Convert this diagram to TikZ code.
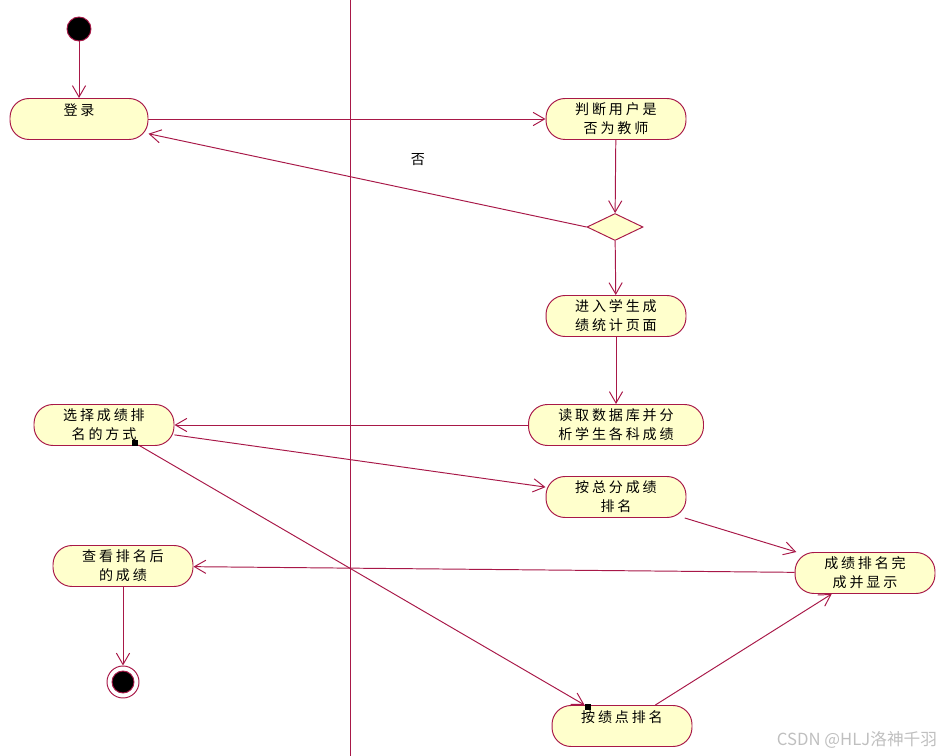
\documentclass[tikz,border=0pt]{standalone}
\usepackage{fontspec}
\usepackage{tikz}
\usetikzlibrary{arrows.meta,shapes.geometric}
\newfontfamily\cjk[LetterSpace=20]{Noto Sans CJK SC}
\newfontfamily\wmark{Noto Sans CJK SC}
\definecolor{umlline}{RGB}{168,24,72}
\definecolor{umlfill}{RGB}{255,255,204}

\begin{document}
\begin{tikzpicture}[x=0.02cm,y=-0.02cm,->,>={Straight Barb[length=6.5pt,width=7.5pt]},line width=0.55pt,
    every edge/.style={draw=umlline}]
        \tikzstyle{activity} = [rectangle, rounded corners=0.38cm, draw=umlline, fill=umlfill, text=black,
            minimum width=2.8cm, minimum height=0.82cm, inner sep=0pt, align=center,
            font=\cjk\fontsize{8pt}{10.8pt}\selectfont]
        \tikzstyle{decision} = [diamond, draw=umlline, fill=umlfill, minimum width=1.12cm, minimum height=0.54cm, aspect=2, inner sep=0pt]
        \tikzstyle{startdot} = [circle, draw=umlline, fill=black, minimum size=0.48cm, inner sep=0pt]
        \tikzstyle{enddot} = [circle, draw=umlline, fill=white, minimum size=0.64cm, inner sep=0pt,
            path picture={\fill[black, draw=umlline] (path picture bounding box.center) circle (0.22cm);}]
        \tikzstyle{pinsq} = [rectangle, fill=black, minimum size=0.12cm, inner sep=0pt]

        \useasboundingbox (0,0) rectangle (943,756);

        % Swimlane
        \draw[-, umlline, line width=0.6pt] (350.5,0) -- (350.5,756);

        % Nodes
        \node[startdot] (init) at (79,29) {};
        \node[activity, minimum width=2.76cm] (login) at (79,119) {登录\\\mbox{}};
        \node[activity] (check) at (616,119) {判断用户是\\否为教师};
        \node[decision] (isteacher) at (615,227) {};
        \node[activity] (enter) at (616,316) {进入学生成\\绩统计页面};
        \node[activity, minimum width=3.5cm] (readdb) at (616,425) {读取数据库并分\\析学生各科成绩};
        \node[activity] (choose) at (104,425) {选择成绩排\\名的方式};
        \node[activity] (bytotal) at (616,497) {按总分成绩\\排名};
        \node[activity] (bygpa) at (622,726) {按绩点排名\\\mbox{}};
        \node[activity] (done) at (865,573) {成绩排名完\\成并显示};
        \node[activity] (view) at (123,566) {查看排名后\\的成绩};
        \node[enddot] (final) at (123,682) {};
        \node[pinsq] (sqa) at (135,443) {};
        \node[pinsq] (sqb) at (588,707) {};

        % Labels
        \node[font=\cjk\fontsize{8pt}{10.8pt}\selectfont] (no) at (418,160) {否};
        \node[font=\wmark\fontsize{9.5pt}{11pt}\selectfont, text=black!25] (wm) at (857,740) {CSDN @HLJ洛神千羽};

        % Edges
        \path (init) edge (login);
        \path (login) edge (check);
        \path (check) edge (isteacher);
        \path (isteacher.west) edge (login);
        \path (isteacher) edge (enter);
        \path (enter) edge (readdb);
        \path (readdb) edge (choose);
        \path (choose) edge (bytotal);
        \path (sqa) edge (sqb);
        \path (bytotal) edge (done);
        \path (bygpa) edge (done);
        \path (done) edge (view);
        \path (view) edge (final);
    \end{tikzpicture}
\end{document}
